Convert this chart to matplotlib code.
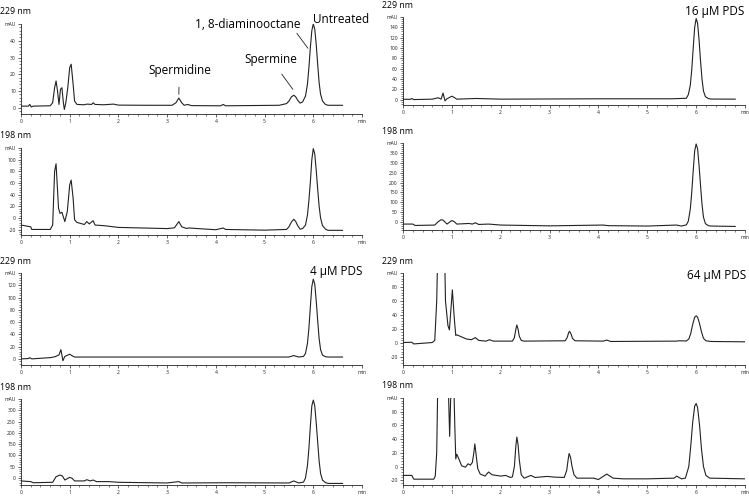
import matplotlib
matplotlib.use("Agg")
from matplotlib import pyplot as plt
from matplotlib.ticker import AutoMinorLocator
import numpy as np

plt.rcParams["font.family"] = ["Open Sans", "DejaVu Sans"]

# retention time (min) / absorbance (mAU)
untreated_229_t = [0.0, 0.15, 0.18, 0.21, 0.25, 0.6, 0.65, 0.69, 0.72, 0.75, 0.78, 0.81, 0.84, 0.87, 0.89,
                   0.92, 0.96, 1.0, 1.03, 1.07, 1.1, 1.15, 1.3, 1.35, 1.45, 1.48, 1.52, 1.7, 1.9, 2.0, 2.6,
                   3.1, 3.18, 3.24, 3.3, 3.35, 3.42, 3.5, 4.1, 4.15, 4.2, 5.3, 5.45, 5.5, 5.55, 5.6, 5.64,
                   5.68, 5.73, 5.78, 5.84, 5.88, 5.91, 5.94, 5.97, 6.0, 6.03, 6.06, 6.09, 6.12, 6.15,
                   6.19, 6.25, 6.3, 6.6]
untreated_229_y = [1, 1, 2, 0.5, 1, 1.2, 3, 12, 16, 10, 2, 11, 12, 3, -1,
                   3, 12, 24, 26, 14, 4, 2, 1.8, 2.2, 2, 3, 2, 1.8, 2.2, 1.6, 1.5,
                   1.5, 3, 5.8, 3, 1.5, 2, 1.3, 1.2, 2, 1.2, 1.5, 2.5, 4, 6.5, 7.5, 6.5,
                   4.5, 2.8, 3.5, 7, 14, 24, 36, 46, 50, 47, 38, 26, 15, 8,
                   4, 2, 1.5, 1.5]

untreated_198_t = [0.0, 0.2, 0.22, 0.6, 0.65, 0.69, 0.72, 0.77, 0.8, 0.84, 0.9, 0.95, 1.0, 1.03, 1.07,
                   1.1, 1.15, 1.3, 1.35, 1.4, 1.48, 1.52, 1.7, 1.9, 2.0, 2.5, 3.0, 3.15, 3.24, 3.3, 3.4,
                   3.45, 4.0, 4.15, 4.2, 5.0, 5.45, 5.5, 5.55, 5.6, 5.64, 5.68, 5.73, 5.78, 5.84, 5.88,
                   5.91, 5.94, 5.97, 6.0, 6.03, 6.06, 6.09, 6.12, 6.15, 6.19, 6.25, 6.3, 6.6]
untreated_198_y = [-12, -15, -19.5, -19.5, -12, 80, 93, 17, 8, 10, -6, 11, 57, 65, 34,
                   -3, -7.5, -11, -6, -10, -4.6, -12, -13, -15, -16, -17, -18, -16.7, -6, -15, -17.8,
                   -17, -20, -17, -19.5, -20.7, -19.5, -15, -7, -2, -6, -13, -19, -18, -12, 5,
                   30, 62, 100, 119, 110, 82, 50, 20, 0, -13, -19, -21, -21]

pds4_229_t = [0.0, 0.15, 0.18, 0.22, 0.6, 0.7, 0.78, 0.82, 0.86, 0.9, 1.0, 1.05, 1.1, 1.5, 3.2, 5.5,
              5.6, 5.7, 5.8, 5.84, 5.88, 5.91, 5.94, 5.97, 6.0, 6.03, 6.06, 6.09, 6.12, 6.15, 6.19,
              6.25, 6.3, 6.6]
pds4_229_y = [0, 0.5, 2, 0, 2, 3.5, 6.5, 15, -3, 4, 7.6, 5, 3, 3, 3, 3,
              5.4, 3, 4, 9, 25, 50, 85, 118, 130, 122, 95, 63, 33, 15, 6,
              3.5, 3, 3]

pds4_198_t = [0.0, 0.2, 0.25, 0.65, 0.72, 0.8, 0.85, 0.9, 1.0, 1.05, 1.1, 1.3, 1.35, 1.42, 1.48, 1.55,
              1.8, 2.0, 3.0, 3.24, 3.3, 4.2, 5.5, 5.6, 5.7, 5.8, 5.84, 5.88, 5.91, 5.94, 5.97, 6.0,
              6.03, 6.06, 6.09, 6.12, 6.15, 6.19, 6.25, 6.3, 6.6]
pds4_198_y = [-13, -16, -21, -19, 6, 13, 9, -9, 3, -1.5, -13, -13, -7.5, -13, -9, -16,
              -16, -19, -22, -16, -22, -21, -22, -13, -22, -18, 0, 55, 130, 230, 320, 345,
              320, 245, 160, 75, 20, -10, -20, -24, -24]

pds16_229_t = [0.0, 0.15, 0.18, 0.22, 0.6, 0.72, 0.78, 0.82, 0.86, 0.9, 1.0, 1.05, 1.1, 1.5, 2.0, 4.0,
               5.5, 5.8, 5.84, 5.88, 5.91, 5.94, 5.97, 6.0, 6.03, 6.06, 6.09, 6.12, 6.15, 6.19, 6.25,
               6.3, 6.8]
pds16_229_y = [1, 1, 2.6, 0.5, 1.3, 4, 1.3, 13, -2, 2, 7, 4.5, 1.3, 2.6, 1.3, 2,
               2, 3, 10, 28, 58, 100, 140, 157, 148, 115, 75, 40, 17, 6, 2.5,
               1.5, 1.3]

pds16_198_t = [0.0, 0.2, 0.25, 0.65, 0.72, 0.78, 0.82, 0.9, 1.0, 1.05, 1.1, 1.35, 1.42, 1.48, 1.55,
               1.75, 2.0, 3.0, 4.1, 4.2, 5.0, 5.6, 5.7, 5.8, 5.84, 5.88, 5.91, 5.94, 5.97, 6.0, 6.03,
               6.06, 6.09, 6.12, 6.15, 6.19, 6.25, 6.3, 6.8]
pds16_198_y = [-10, -10, -17, -15, 2, 12, 10, -10, 8, 2, -10, -7, -10, -3.4, -12,
               -10, -15, -19, -15, -18, -20, -15, -20, -14, 5, 65, 150, 260, 360, 395, 370,
               285, 185, 90, 25, -8, -18, -20, -22]

pds64_229_t = [0.0, 0.18, 0.22, 0.6, 0.65, 0.69, 0.72, 0.78, 0.84, 0.87, 0.92, 0.95, 1.01, 1.05,
               1.08, 1.1, 1.2, 1.3, 1.4, 1.48, 1.55, 1.7, 1.77, 1.85, 2.24, 2.28, 2.31, 2.33, 2.355,
               2.38, 2.42, 2.48, 3.32, 3.36, 3.39, 3.41, 3.44, 3.47, 3.52, 4.1, 4.17, 4.25, 5.6, 5.65,
               5.8, 5.85, 5.89, 5.93, 5.97, 6.0, 6.03, 6.07, 6.11, 6.15, 6.2, 6.3, 7.0]
pds64_229_y = [1, 1.4, -1, 1, 4, 60, 160, 220, 170, 60, 25, 19, 76, 35,
               11, 12, 9, 6, 5, 8, 4, 3, 5, 3, 3, 8, 20, 26, 20,
               10, 4, 3, 3.5, 8, 15, 17, 13, 7, 3.5, 3, 4.5, 2.5, 3, 3.5,
               3.2, 6, 14, 27, 37, 39, 37, 28, 16, 7, 3.5, 2.5, 2]

pds64_198_t = [0.0, 0.18, 0.22, 0.63, 0.66, 0.69, 0.72, 0.8, 0.88, 0.93, 0.955, 0.98, 1.0, 1.03,
               1.06, 1.08, 1.1, 1.15, 1.2, 1.28, 1.33, 1.38, 1.42, 1.45, 1.47, 1.5, 1.53, 1.58, 1.68,
               1.75, 1.82, 2.0, 2.1, 2.2, 2.24, 2.28, 2.31, 2.33, 2.355, 2.38, 2.42, 2.48, 2.62, 2.7,
               2.95, 3.1, 3.3, 3.35, 3.38, 3.4, 3.43, 3.46, 3.5, 3.56, 3.9, 4.0, 4.17, 4.3, 4.5, 5.0,
               5.55, 5.6, 5.7, 5.78, 5.85, 5.89, 5.93, 5.97, 6.0, 6.03, 6.07, 6.11, 6.15, 6.2, 6.28,
               7.0]
pds64_198_y = [-13, -13, -18.5, -18.5, -14, 20, 160, 260, 200, 110, 44, 110, 180, 150,
               60, 11, 18, 10, 1, -1, 4, 2, 6, 20, 33, 15, -3, -11, -14,
               -8, -12, -14, -13, -16, -15, 0, 30, 43, 32, 10, -12, -17, -13, -16,
               -14.5, -15.5, -16, -6, 10, 19, 13, 0, -12, -17, -17, -19, -11, -17, -18, -18,
               -17, -14, -18, -17, 0, 30, 65, 88, 92, 86, 60, 25, 0, -13, -17,
               -18]

# (trace, wavelength, axes box in px: left, top, right, bottom, y range, y step)
panels = [
    (untreated_229_t, untreated_229_y, "229 nm", (21, 24, 362, 114), (-3.7, 50), 10),
    (untreated_198_t, untreated_198_y, "198 nm", (21, 148, 362, 235), (-29, 120), 20),
    (pds4_229_t, pds4_229_y, "229 nm", (21, 273, 362, 365), (-10, 140), 20),
    (pds4_198_t, pds4_198_y, "198 nm", (21, 399, 362, 485), (-31, 350), 50),
    (pds16_229_t, pds16_229_y, "229 nm", (403, 17, 745, 105), (-10, 160), 20),
    (pds16_198_t, pds16_198_y, "198 nm", (403, 143, 745, 230), (-40, 400), 50),
    (pds64_229_t, pds64_229_y, "229 nm", (403, 273, 745, 365), (-31, 100), 20),
    (pds64_198_t, pds64_198_y, "198 nm", (403, 398, 745, 485), (-27, 100), 20),
]

W, H = 749, 497
fig = plt.figure(figsize=(W / 100, H / 100), dpi=100)
axes = []
ink = "#222222"

for t, y, nm, (l, top, r, b), ylim, step in panels:
    ax = fig.add_axes([l / W, 1 - b / H, (r - l) / W, (b - top) / H])
    ax.plot(t, y, color=ink, lw=0.8)
    ax.set_xlim(0, 7)
    ax.set_ylim(*ylim)
    for s in ["top", "right"]:
        ax.spines[s].set_visible(False)
    for s in ["left", "bottom"]:
        ax.spines[s].set_linewidth(0.6)
        ax.spines[s].set_color(ink)

    xt = list(range(8))
    ax.set_xticks(xt)
    ax.set_xticklabels([str(v) for v in xt[:-1]] + ["min"])
    yt = list(np.arange(np.ceil(ylim[0] / step) * step, ylim[1] + 0.1, step))
    ax.set_yticks(yt)
    ax.set_yticklabels(["%d" % v for v in yt[:-1]] + ["mAU"])
    ax.xaxis.set_minor_locator(AutoMinorLocator(5))
    ax.yaxis.set_minor_locator(AutoMinorLocator(5))
    ax.tick_params(which="major", length=2.5, width=0.5, labelsize=3.6, pad=1.2, colors=ink)
    ax.tick_params(which="minor", length=1.3, width=0.4, colors=ink)

    fig.text((l - 21) / W, 1 - (top - 12) / H, nm, fontsize=6.3, va="center", ha="left")
    axes.append(ax)

# sample labels
fig.text(744 / W, 1 - 12 / H, "16 µM PDS", fontsize=8.5, ha="right", va="center")
fig.text(362 / W, 1 - 272 / H, "4 µM PDS", fontsize=8.5, ha="right", va="center")
fig.text(746 / W, 1 - 275 / H, "64 µM PDS", fontsize=8.5, ha="right", va="center")

# peak annotations on the untreated 229 nm trace
ax = axes[0]
lbl = dict(fontsize=8.5, ha="center", va="center", annotation_clip=False)
ax.annotate("Spermidine", xy=(3.24, 8), xytext=(3.25, 22),
            arrowprops=dict(arrowstyle="-", lw=0.6, color=ink, shrinkA=5, shrinkB=0), **lbl)
ax.annotate("Spermine", xy=(5.58, 11), xytext=(5.13, 29),
            arrowprops=dict(arrowstyle="-", lw=0.6, color=ink, shrinkA=5, shrinkB=0), **lbl)
ax.annotate("1, 8-diaminooctane", xy=(5.89, 35.5), xytext=(4.65, 50),
            arrowprops=dict(arrowstyle="-", lw=0.6, color=ink, shrinkA=0, shrinkB=0,
                            relpos=(0.93, 0.2)), **lbl)
ax.text(6.58, 52.5, "Untreated", fontsize=8.5, ha="center", va="center")

fig.savefig("out.png", dpi=100)
